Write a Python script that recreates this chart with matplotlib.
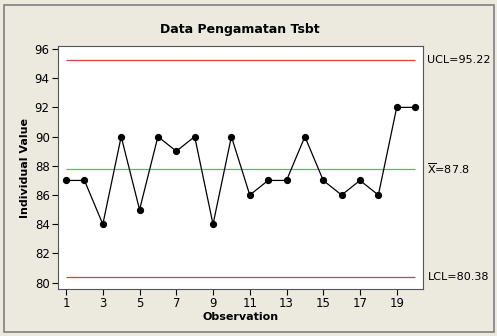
import matplotlib.pyplot as plt
from matplotlib.patches import Rectangle

# data
obs = list(range(1, 21))
values = [87, 87, 84, 90, 85, 90, 89, 90, 84, 90, 86, 87, 87, 90, 87, 86, 87, 86, 92, 92]
ucl = 95.22
center = 87.8
lcl = 80.38
yticks = [80, 82, 84, 86, 88, 90, 92, 94, 96]
xticks = [1, 3, 5, 7, 9, 11, 13, 15, 17, 19]

bg = "#ECE9DF"
plt.rcParams['font.family'] = ['DejaVu Sans']

fig = plt.figure(figsize=(4.97, 3.36), dpi=100, facecolor=bg)
fig.patches.append(Rectangle((4 / 497, 4 / 336), 490 / 497, 327 / 336, transform=fig.transFigure,
                             fill=False, edgecolor="#808080", linewidth=1.2))

ax = fig.add_axes([58 / 497, 47 / 336, 365 / 497, 243 / 336])
ax.set_facecolor("white")

ax.plot(obs, values, color="black", linewidth=0.9, marker="o", markersize=4.2, zorder=3)
ax.hlines([ucl, lcl], obs[0], obs[-1], color="#E03C3C", linewidth=0.9)
ax.hlines(center, obs[0], obs[-1], color="#3CCC3C", linewidth=0.9)

ax.set_xlim(0.56, 20.43)
ax.set_ylim(79.57, 96.2)
ax.set_xticks(xticks)
ax.set_yticks(yticks)
ax.tick_params(direction="out", length=4, width=0.8, labelsize=8.5, pad=2)
for s in ax.spines.values():
    s.set_color("#555555")
    s.set_linewidth(0.8)

ax.set_xlabel("Observation", fontsize=8, fontweight="bold", labelpad=1)
ax.set_ylabel("Individual Value", fontsize=8, fontweight="bold", labelpad=3)
fig.text(240 / 497, 1 - 29 / 336, "Data Pengamatan Tsbt", ha="center", va="center",
         fontsize=9, fontweight="bold")

ax.text(1.012, ucl, "UCL=95.22", transform=ax.get_yaxis_transform(), va="center", fontsize=8)
ax.text(1.012, center, r"$\overline{\mathrm{X}}$=87.8", transform=ax.get_yaxis_transform(),
        va="center", fontsize=8)
ax.text(1.012, lcl, "LCL=80.38", transform=ax.get_yaxis_transform(), va="center", fontsize=8)

fig.savefig("out.png", dpi=100, facecolor=bg)
